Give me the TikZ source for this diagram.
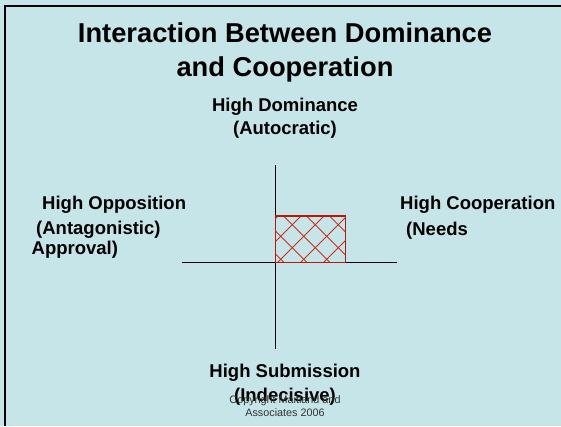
\documentclass[tikz,border=0pt]{standalone}
\usepackage{fontspec}
\setmainfont{Liberation Sans}
\usetikzlibrary{positioning}
\definecolor{slidebg}{HTML}{C6E5E8}
\definecolor{boxred}{HTML}{B81808}
\definecolor{hatchred}{HTML}{C8301E}

\begin{document}
\begin{tikzpicture}[x=1pt,y=-1pt,
  ttl/.style={font=\fontsize{27.3}{29}\selectfont\bfseries, inner sep=0pt, anchor=base},
  lbl/.style={font=\fontsize{18.5}{20}\selectfont\bfseries, inner sep=0pt, anchor=base},
  lbll/.style={lbl, anchor=base west},
  note/.style={font=\fontsize{10.8}{12}\selectfont, text=black!80, inner sep=0pt, anchor=base}]
\def\hs{23} % spacing of the hatch lines
% slide background and frame
\fill[slidebg] (0,0) rectangle (561,426);
\useasboundingbox (0,0) rectangle (561,426);
\draw[line width=2.2pt] (4.7,426) -- (4.7,6) -- (561,6);

% title
\node[ttl] (title1) at (285,42) {Interaction Between Dominance};
\node[ttl] (title2) at (285,76) {and Cooperation};

% axis labels
\node[lbl] (dom1) at (285,111) {High Dominance};
\node[lbl] (dom2) at (285,134) {(Autocratic)};
\node[lbll] (opp1) at (42,209.5) {High Opposition};
\node[lbll] (opp2) at (36,234) {(Antagonistic)};
\node[lbll] (opp3) at (31.5,254) {Approval)};
\node[lbll] (coop1) at (400,209.5) {High Cooperation};
\node[lbll] (coop2) at (406,235) {(Needs};
\node[lbl] (sub1) at (285,377.5) {High Submission};
\node[lbl] (sub2) at (285,401) {(Indecisive)};
\node[note] (copy1) at (285,403) {Copyright Maitland and};
\node[note] (copy2) at (285,416) {Associates 2006};

% axes
\coordinate (vtop) at (275.3,165);
\coordinate (vbot) at (275.3,349);
\coordinate (hleft) at (182,262.7);
\coordinate (hright) at (397,262.7);
\draw[line width=0.9pt] (vtop) -- (vbot);
\draw[line width=0.9pt] (hleft) -- (hright);

% hatched box
\coordinate (boxsw) at (275.3,262.7);
\coordinate (boxne) at (345.5,216);
\begin{scope}
\clip (boxsw) rectangle (boxne);
\foreach \k in {-4,...,4}
{
  \pgfmathsetmacro\ca{540+\hs*\k}
  \pgfmathsetmacro\cb{44.5+\hs*\k}
  \draw[hatchred, line width=0.8pt] (\ca-280,280) -- (\ca-200,200);
  \draw[hatchred, line width=0.8pt] (\cb+200,200) -- (\cb+280,280);
}
\end{scope}
\draw[boxred, line width=1.2pt] (boxsw) |- (boxne) |- (boxsw);
\end{tikzpicture}
\end{document}
